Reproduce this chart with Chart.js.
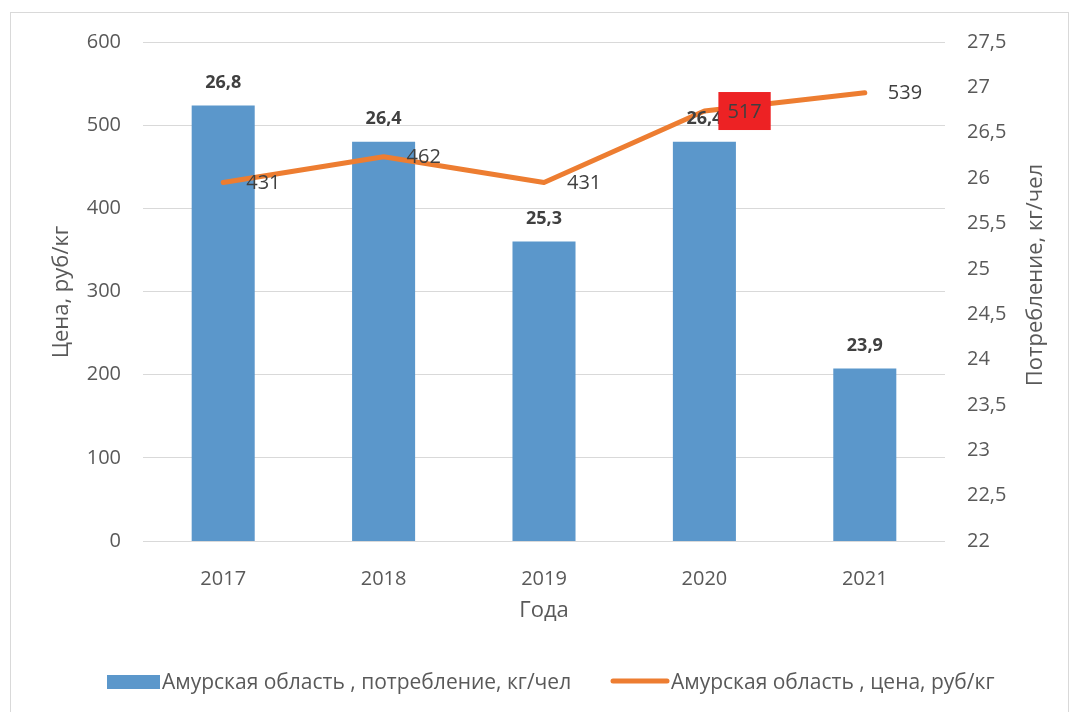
<!DOCTYPE html>
<html>
<head>
<meta charset="utf-8">
<script src="https://cdn.jsdelivr.net/npm/chart.js@4.4.1/dist/chart.umd.min.js"></script>
<style>
  html, body { margin: 0; padding: 0; background: #fff; }
  #wrap { width: 1070px; height: 712px; }
</style>
</head>
<body>
<div id="wrap"><canvas id="chart" width="1070" height="712"></canvas></div>
<script>
// data
const years       = ["2017", "2018", "2019", "2020", "2021"];
const consumption = [26.8, 26.4, 25.3, 26.4, 23.9];   // кг/чел, right axis
const price       = [431, 462, 431, 517, 539];        // руб/кг, left axis

const consumptionName = "Амурская область , потребление, кг/чел";
const priceName       = "Амурская область , цена, руб/кг";
const leftTitle  = "Цена, руб/кг";
const rightTitle = "Потребление, кг/чел";
const xTitle     = "Года";

const FONT  = "'Open Sans', 'Noto Sans', sans-serif";
const GREY  = "#595959";
const DARK  = "#404040";
const BLUE  = "#5B97CB";
const ORANGE = "#ED7D31";

const comma = (v) => String(v).replace(".", ",");

// extra drawing: frame, value labels, axis titles, legend
const extras = {
  id: "extras",
  beforeDraw(chart) {
    const ctx = chart.ctx;
    ctx.save();
    ctx.fillStyle = "#fff";
    ctx.fillRect(0, 0, chart.width, chart.height);
    ctx.strokeStyle = "#d9d9d9";
    ctx.lineWidth = 1;
    ctx.strokeRect(10.5, 12.5, 1058, 700);
    ctx.restore();
  },
  afterDatasetsDraw(chart) {
    const ctx = chart.ctx;
    ctx.save();
    // bar labels
    ctx.font = "bold 18px " + FONT;
    ctx.fillStyle = DARK;
    ctx.textAlign = "center";
    ctx.textBaseline = "middle";
    chart.getDatasetMeta(1).data.forEach((bar, i) => {
      ctx.fillText(comma(consumption[i]), bar.x, bar.y - 23);
    });
    // line labels (right of point)
    ctx.font = "20px " + FONT;
    ctx.textAlign = "left";
    chart.getDatasetMeta(0).data.forEach((pt, i) => {
      const txt = String(price[i]);
      const tx = pt.x + 23;
      if (i === 3) {
        const w = ctx.measureText(txt).width;
        ctx.fillStyle = "#ED2224";
        ctx.fillRect(tx - 9, pt.y - 19, w + 18, 38);
      }
      ctx.fillStyle = DARK;
      ctx.fillText(txt, tx, pt.y + 1);
    });
    ctx.restore();
  },
  afterDraw(chart) {
    const ctx = chart.ctx;
    ctx.save();
    ctx.fillStyle = GREY;
    ctx.font = "22px " + FONT;
    ctx.textAlign = "center";
    ctx.textBaseline = "middle";
    // x title
    ctx.fillText(xTitle, 544, 611);
    // left title
    ctx.save();
    ctx.translate(62, 292);
    ctx.rotate(-Math.PI / 2);
    ctx.fillText(leftTitle, 0, 0);
    ctx.restore();
    // right title
    ctx.save();
    ctx.translate(1036, 275);
    ctx.rotate(-Math.PI / 2);
    ctx.fillText(rightTitle, 0, 0);
    ctx.restore();

    // legend
    ctx.font = "21px " + FONT;
    ctx.textAlign = "left";
    ctx.fillStyle = BLUE;
    ctx.fillRect(107, 675, 53, 14);
    ctx.fillStyle = GREY;
    ctx.fillText(consumptionName, 162, 683);
    ctx.strokeStyle = ORANGE;
    ctx.lineWidth = 5;
    ctx.lineCap = "round";
    ctx.beginPath();
    ctx.moveTo(613, 681);
    ctx.lineTo(667, 681);
    ctx.stroke();
    ctx.fillText(priceName, 671, 683);
    ctx.restore();
  }
};

new Chart(document.getElementById("chart"), {
  data: {
    labels: years,
    datasets: [
      {
        type: "line",
        label: priceName,
        data: price,
        yAxisID: "y",
        borderColor: ORANGE,
        borderWidth: 5,
        borderCapStyle: "round",
        borderJoinStyle: "round",
        pointRadius: 0,
        tension: 0,
        order: 0
      },
      {
        type: "bar",
        label: consumptionName,
        data: consumption,
        yAxisID: "y1",
        backgroundColor: BLUE,
        barPercentage: 0.393,
        categoryPercentage: 1,
        order: 1
      }
    ]
  },
  options: {
    responsive: false,
    animation: false,
    layout: { padding: { top: 42, left: 0, right: 0, bottom: 0 } },
    plugins: { legend: { display: false }, tooltip: { enabled: false } },
    scales: {
      x: {
        grid: { display: false },
        border: { display: false },
        ticks: { color: GREY, font: { family: FONT, size: 20 }, padding: 18 },
        afterFit: (s) => { s.height = 171; }
      },
      y: {
        position: "left",
        min: 0, max: 600,
        grid: { color: "#d9d9d9", lineWidth: 1, drawTicks: false },
        border: { display: false },
        ticks: { stepSize: 100, color: GREY, font: { family: FONT, size: 20 }, padding: 22 },
        afterFit: (s) => { s.width = 143; }
      },
      y1: {
        position: "right",
        min: 22, max: 27.5,
        grid: { display: false },
        border: { display: false },
        ticks: { stepSize: 0.5, color: GREY, font: { family: FONT, size: 20 }, padding: 14,
                 callback: (v) => comma(v) },
        afterFit: (s) => { s.width = 125; }
      }
    }
  },
  plugins: [extras]
});
</script>
</body>
</html>
